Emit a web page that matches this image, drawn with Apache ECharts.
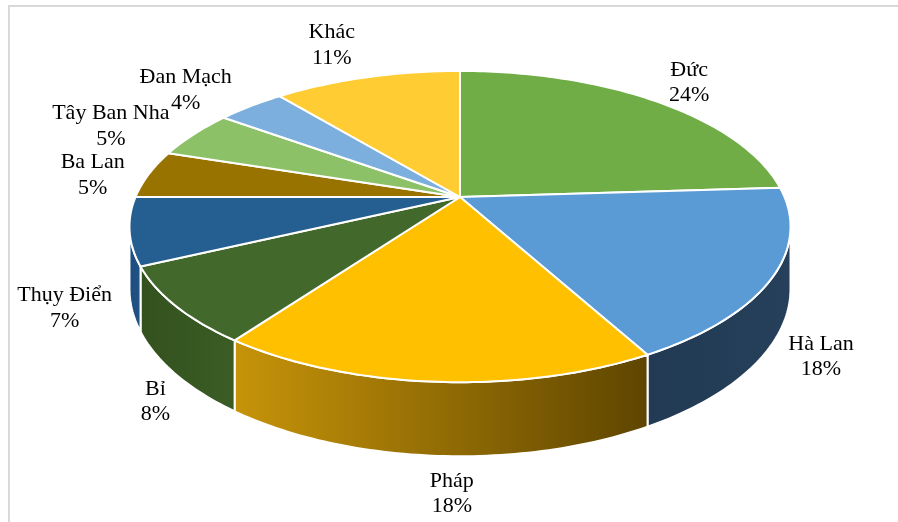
<!DOCTYPE html>
<html>
<head>
<meta charset="utf-8">
<script src="https://cdn.jsdelivr.net/npm/echarts@6/dist/echarts.min.js"></script>
<style>
  html, body { margin: 0; padding: 0; background: #ffffff; }
  #chart { width: 898px; height: 522px; }
</style>
</head>
<body>
<div id="chart"></div>
<script>
// Export market shares (%) by destination
const categories = ['Đức', 'Hà Lan', 'Pháp', 'Bỉ', 'Thụy Điển', 'Ba Lan', 'Tây Ban Nha', 'Đan Mạch', 'Khác'];
const shares = [24, 18, 18, 8, 7, 5, 5, 4, 11];

// Slice styling
const topColors = ['#70AD47', '#5B9BD5', '#FFC000', '#43682B', '#255E91', '#997300', '#8CC168', '#7CAFDD', '#FFCD33'];
const wallColors = [
  ['#4E7A31', '#4E7A31'],
  ['#223A53', '#26405B'],
  ['#C79409', '#5E4500'],
  ['#33511E', '#3B5D25'],
  ['#1E4C7B', '#22548A'],
  ['#6B5100', '#6B5100'],
  ['#62883F', '#62883F'],
  ['#557FA6', '#557FA6'],
  ['#B8921F', '#B8921F']
];
// Label offset (px) from the rim point at each slice's mid-angle
const labelShift = [[34, -18], [48, 80], [17, 112], [-20, 96], [-65, 77], [-56, 1], [-83, -8], [-65, -16], [-35, -32]];

// Tilted disc with a mild perspective
const disc = { cx: 460, cy: 197, rx: 324.5, ry: 150, persp: 0.19, depth: 60 };

function project(phi, h) {
  const c = Math.cos(phi);
  const k = 1 / (1 + disc.persp * c);
  return [disc.cx + disc.rx * Math.sin(phi) * k, disc.cy - disc.ry * c * k + h * k];
}
function arc(a, b, h) {
  const pts = [];
  const n = Math.max(2, Math.ceil(Math.abs(b - a) / (Math.PI / 180)));
  for (let i = 0; i <= n; i++) pts.push(project(a + (b - a) * i / n, h));
  return pts;
}

// Cumulative start/end fractions for each slice
const total = shares.reduce((s, v) => s + v, 0);
const sliceRows = [];
let acc = 0;
shares.forEach((v, i) => {
  sliceRows.push([acc / total, (acc + v) / total, i]);
  acc += v;
});

const TAU = Math.PI * 2;
const wallFrom = Math.acos(-disc.persp);
const wallTo = TAU - wallFrom;

function renderWall(params, api) {
  const a = Math.max(api.value(0) * TAU, wallFrom);
  const b = Math.min(api.value(1) * TAU, wallTo);
  const i = api.value(2);
  if (b <= a) return { type: 'group', children: [] };
  const pts = arc(a, b, 0).concat(arc(b, a, disc.depth));
  return {
    type: 'polygon',
    shape: { points: pts },
    style: {
      fill: new echarts.graphic.LinearGradient(0, 0, 1, 0, [
        { offset: 0, color: wallColors[i][0] },
        { offset: 1, color: wallColors[i][1] }
      ]),
      stroke: '#ffffff',
      lineWidth: 2,
      lineJoin: 'round'
    }
  };
}

function renderTop(params, api) {
  const a = api.value(0) * TAU;
  const b = api.value(1) * TAU;
  const i = api.value(2);
  const pts = [[disc.cx, disc.cy]].concat(arc(a, b, 0));
  return {
    type: 'polygon',
    shape: { points: pts },
    style: { fill: topColors[i], stroke: '#ffffff', lineWidth: 2, lineJoin: 'round' }
  };
}

function renderLabel(params, api) {
  const mid = (api.value(0) + api.value(1)) / 2 * TAU;
  const i = api.value(2);
  const p = project(mid, 0);
  return {
    type: 'text',
    x: p[0] + labelShift[i][0],
    y: p[1] + labelShift[i][1],
    style: {
      text: categories[i] + '\n' + shares[i] + '%',
      fontFamily: '"Liberation Serif", "Times New Roman", serif',
      fontSize: 22,
      lineHeight: 25.5,
      fill: '#000000',
      align: 'center',
      verticalAlign: 'middle'
    }
  };
}

const chart = echarts.init(document.getElementById('chart'), null, { renderer: 'canvas' });
chart.setOption({
  animation: false,
  backgroundColor: '#ffffff',
  graphic: [
    { type: 'line', shape: { x1: 9, y1: 6, x2: 898, y2: 6 }, style: { stroke: '#D9D9D9', lineWidth: 2 } },
    { type: 'line', shape: { x1: 9, y1: 5, x2: 9, y2: 522 }, style: { stroke: '#D9D9D9', lineWidth: 2 } }
  ],
  series: [
    { type: 'custom', coordinateSystem: 'none', silent: true, z: 1, data: sliceRows, renderItem: renderWall },
    { type: 'custom', coordinateSystem: 'none', silent: true, z: 2, data: sliceRows, renderItem: renderTop },
    { type: 'custom', coordinateSystem: 'none', silent: true, z: 3, data: sliceRows, renderItem: renderLabel }
  ]
});
</script>
</body>
</html>
